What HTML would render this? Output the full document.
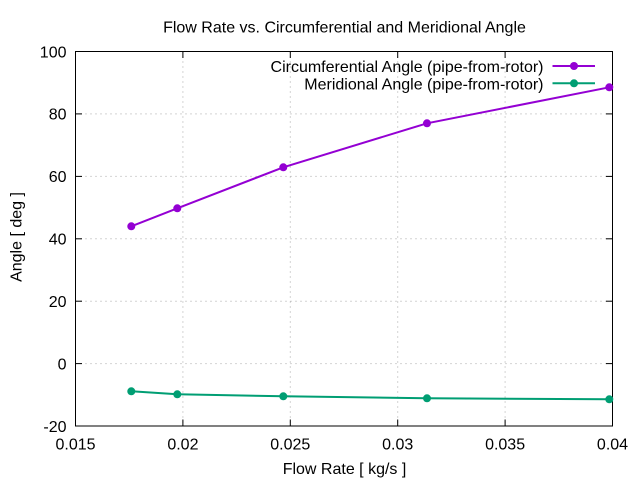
<!DOCTYPE html>
<html><head><meta charset="utf-8"><style>
html,body{margin:0;padding:0;background:#fff;}
svg{display:block;}
text{font-family:"Liberation Sans",Arial,sans-serif;font-size:16px;fill:#000;}
</style></head><body>
<svg width="640" height="480" viewBox="0 0 640 480" xmlns="http://www.w3.org/2000/svg">
<rect width="640" height="480" fill="#fff"/>
<!-- grid -->
<g stroke="#a8a8a8" stroke-width="1" stroke-dasharray="1,4" fill="none">
<line x1="75.5" y1="363.6" x2="612.5" y2="363.6"/>
<line x1="75.5" y1="301.2" x2="612.5" y2="301.2"/>
<line x1="75.5" y1="238.8" x2="612.5" y2="238.8"/>
<line x1="75.5" y1="176.4" x2="612.5" y2="176.4"/>
<line x1="75.5" y1="113.9" x2="612.5" y2="113.9"/>
<line x1="182.9" y1="51.5" x2="182.9" y2="426"/>
<line x1="290.3" y1="51.5" x2="290.3" y2="426"/>
<line x1="397.7" y1="51.5" x2="397.7" y2="426"/>
<line x1="505.1" y1="51.5" x2="505.1" y2="426"/>
</g>
<!-- ticks -->
<g stroke="#000" stroke-width="1">
<line x1="75.5" y1="363.6" x2="82" y2="363.6"/><line x1="612.5" y1="363.6" x2="606" y2="363.6"/>
<line x1="75.5" y1="301.2" x2="82" y2="301.2"/><line x1="612.5" y1="301.2" x2="606" y2="301.2"/>
<line x1="75.5" y1="238.8" x2="82" y2="238.8"/><line x1="612.5" y1="238.8" x2="606" y2="238.8"/>
<line x1="75.5" y1="176.4" x2="82" y2="176.4"/><line x1="612.5" y1="176.4" x2="606" y2="176.4"/>
<line x1="75.5" y1="113.9" x2="82" y2="113.9"/><line x1="612.5" y1="113.9" x2="606" y2="113.9"/>
<line x1="182.9" y1="426" x2="182.9" y2="419.5"/><line x1="182.9" y1="51.5" x2="182.9" y2="58"/>
<line x1="290.3" y1="426" x2="290.3" y2="419.5"/><line x1="290.3" y1="51.5" x2="290.3" y2="58"/>
<line x1="397.7" y1="426" x2="397.7" y2="419.5"/><line x1="397.7" y1="51.5" x2="397.7" y2="58"/>
<line x1="505.1" y1="426" x2="505.1" y2="419.5"/><line x1="505.1" y1="51.5" x2="505.1" y2="58"/>
</g>
<rect x="75.5" y="51.5" width="537" height="374.5" fill="none" stroke="#000" stroke-width="1"/>
<!-- y tick labels -->
<g text-anchor="end">
<text x="66.5" y="57.5">100</text>
<text x="66.5" y="119.7">80</text>
<text x="66.5" y="182.2">60</text>
<text x="66.5" y="244.6">40</text>
<text x="66.5" y="307">20</text>
<text x="66.5" y="369.4">0</text>
<text x="66.5" y="431.8">-20</text>
</g>
<!-- x tick labels -->
<g text-anchor="middle">
<text x="75.5" y="449.5">0.015</text>
<text x="182.9" y="449.5">0.02</text>
<text x="290.3" y="449.5">0.025</text>
<text x="397.7" y="449.5">0.03</text>
<text x="505.1" y="449.5">0.035</text>
<text x="612.5" y="449.5">0.04</text>
</g>
<text x="344.5" y="32.5" text-anchor="middle">Flow Rate vs. Circumferential and Meridional Angle</text>
<text x="344.5" y="474" text-anchor="middle">Flow Rate [ kg/s ]</text>
<text transform="translate(21.5,237) rotate(-90)" text-anchor="middle">Angle [ deg ]</text>
<!-- legend -->
<text x="543.5" y="72" text-anchor="end">Circumferential Angle (pipe-from-rotor)</text>
<text x="543.5" y="89.5" text-anchor="end">Meridional Angle (pipe-from-rotor)</text>
<line x1="552.5" y1="66" x2="595" y2="66" stroke="#9400d3" stroke-width="2"/>
<circle cx="574" cy="66" r="4" fill="#9400d3"/>
<line x1="552.5" y1="83.3" x2="595" y2="83.3" stroke="#009e73" stroke-width="2"/>
<circle cx="574" cy="83.3" r="4" fill="#009e73"/>
<!-- series -->
<polyline points="131.3,226.3 177.3,208.3 283.3,167.3 427,123.3 609.3,87.3" fill="none" stroke="#9400d3" stroke-width="2"/>
<g fill="#9400d3">
<circle cx="131.3" cy="226.3" r="4"/><circle cx="177.3" cy="208.3" r="4"/><circle cx="283.3" cy="167.3" r="4"/><circle cx="427" cy="123.3" r="4"/><circle cx="609.3" cy="87.3" r="4"/>
</g>
<polyline points="131.3,391.3 177.3,394.3 283.3,396.3 427,398.3 609.3,399.3" fill="none" stroke="#009e73" stroke-width="2"/>
<g fill="#009e73">
<circle cx="131.3" cy="391.3" r="4"/><circle cx="177.3" cy="394.3" r="4"/><circle cx="283.3" cy="396.3" r="4"/><circle cx="427" cy="398.3" r="4"/><circle cx="609.3" cy="399.3" r="4"/>
</g>
</svg>
</body></html>
